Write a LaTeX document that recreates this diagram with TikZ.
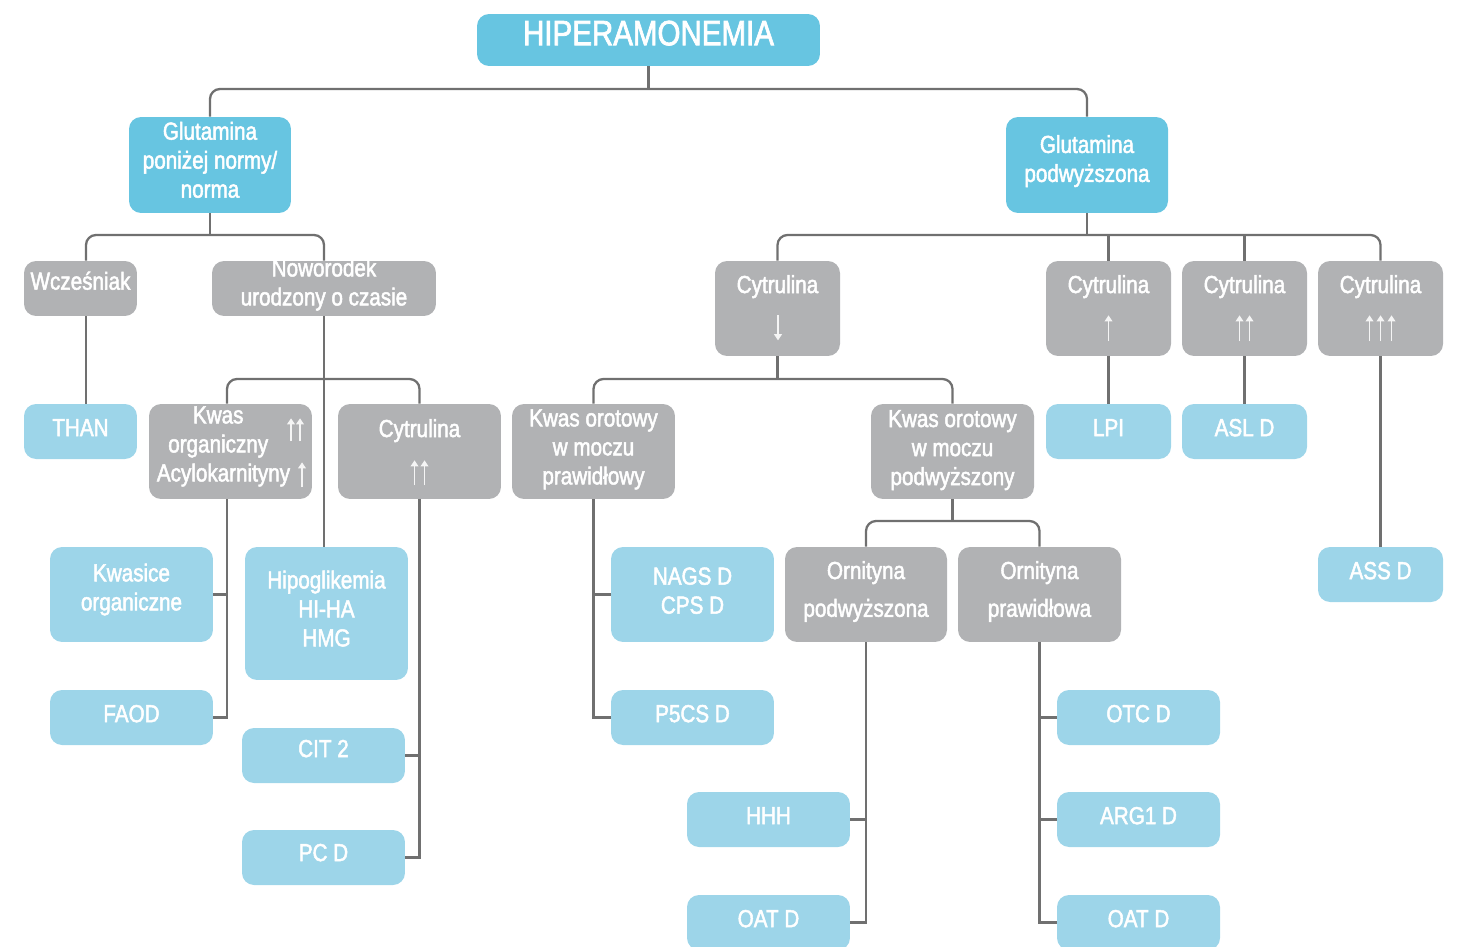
\documentclass[tikz,border=0pt]{standalone}
\usepackage{fontspec}
\setmainfont{Liberation Sans}[FakeStretch=0.84, FakeBold=2]
\usetikzlibrary{arrows.meta,calc}
\definecolor{topblue}{HTML}{67C5E1}
\definecolor{leafblue}{HTML}{9DD5E9}
\definecolor{boxgrey}{HTML}{B1B2B4}
\definecolor{linegrey}{HTML}{707070}
\tikzset{
	base/.style={rounded corners=0.24cm, text=white, align=center, inner sep=0pt, font=\fontsize{14}{16.5}\selectfont},
	lift/.style={execute at end node={\rule[-#1]{0pt}{#1}}},
	box/.style={base, lift=4.5pt},
	topbox/.style={box, fill=topblue},
	greybox/.style={box, fill=boxgrey},
	leafbox/.style={box, fill=leafblue},
	sz/.style 2 args={minimum width=#1cm, minimum height=#2cm},
	cytbox/.style={base, fill=boxgrey, text height=0.5cm, text depth=1.12cm},
	conn/.style={draw=linegrey, line width=1.3pt},
	bar/.style={conn, rounded corners=0.2cm},
	ina/.style={white!92!gray, line width=0.6pt, -{Triangle[width=4.5pt,length=3.5pt]}}
}
\begin{document}
\begin{tikzpicture}[x=0.02cm, y=-0.02cm]
	\useasboundingbox (0,0) rectangle (1459,946);
	\node[topbox, lift=8pt, sz={6.86}{1.04}, font=\fontsize{20}{22}\selectfont] (hip) at (648.5,40) {HIPERAMONEMIA};
	\node[topbox, lift=6pt, sz={3.24}{1.92}] (glutA) at (210,165) {Glutamina\\poniżej normy/\\norma};
	\node[topbox, lift=7.4pt, sz={3.24}{1.92}] (glutB) at (1087,165) {Glutamina\\podwyższona};

	\node[greybox, lift=9pt, sz={2.26}{1.1}] (wcz) at (80.5,288.5) {Wcześniak};
	\node[greybox, lift=7.4pt, inner ysep=-4pt, sz={4.48}{1.1}] (now) at (324,288.5) {Noworodek\\urodzony o czasie};
	\node[cytbox, sz={2.5}{1.9}] (cytD) at (777.5,308.5) {Cytrulina};
	\node[cytbox, sz={2.5}{1.9}] (cytU1) at (1108.5,308.5) {Cytrulina};
	\node[cytbox, sz={2.5}{1.9}] (cytU2) at (1244.5,308.5) {Cytrulina};
	\node[cytbox, sz={2.5}{1.9}] (cytU3) at (1380.5,308.5) {Cytrulina};

	\node[leafbox, lift=2.3pt, sz={2.26}{1.1}] (than) at (80.5,431.5) {THAN};
	\node[greybox, lift=8.6pt, sz={3.26}{1.9}] (kwas) at (230.5,451.5) {Kwas\hspace*{14pt}\\organiczny\kern14pt\\Acylokarnityny\hspace*{8pt}};
	\node[cytbox, sz={3.26}{1.9}, text depth=1.08cm] (cytL) at (419.5,451.5) {Cytrulina};
	\node[greybox, lift=5.2pt, sz={3.26}{1.9}] (kop) at (593.5,451.5) {Kwas orotowy\\w moczu\\prawidłowy};
	\node[greybox, lift=4pt, sz={3.26}{1.9}] (kopp) at (952.5,451.5) {Kwas orotowy\\w moczu\\podwyższony};
	\node[leafbox, sz={2.5}{1.1}] (lpi) at (1108.5,431.5) {LPI};
	\node[leafbox, sz={2.5}{1.1}] (asl) at (1244.5,431.5) {ASL D};

	\node[leafbox, lift=8.6pt, sz={3.26}{1.9}] (kwasice) at (131.5,594.5) {Kwasice\\organiczne};
	\node[leafbox, lift=5.7pt, sz={3.26}{2.66}] (hipo) at (326.5,613.5) {Hipoglikemia\\HI-HA\\HMG};
	\node[leafbox, lift=0pt, sz={3.26}{1.9}] (nags) at (692.5,594.5) {NAGS D\\CPS D};
	\node[greybox, lift=6.3pt, sz={3.24}{1.9}] (ornP) at (866,594.5) {Ornityna\\[5pt]podwyższona};
	\node[greybox, lift=6.3pt, sz={3.26}{1.9}] (ornN) at (1039.5,594.5) {Ornityna\\[5pt]prawidłowa};
	\node[leafbox, sz={2.5}{1.1}] (ass) at (1380.5,574.5) {ASS D};

	\node[leafbox, sz={3.26}{1.1}] (faod) at (131.5,717.5) {FAOD};
	\node[leafbox, lift=1.1pt, sz={3.26}{1.1}] (p5cs) at (692.5,717.5) {P5CS D};
	\node[leafbox, lift=1.1pt, sz={3.26}{1.1}] (otc) at (1138.5,717.5) {OTC D};
	\node[leafbox, lift=8pt, sz={3.26}{1.1}] (cit2) at (323.5,755.5) {CIT 2};
	\node[leafbox, lift=0pt, sz={3.26}{1.1}] (hhh) at (768.5,819.5) {HHH};
	\node[leafbox, lift=0pt, sz={3.26}{1.1}] (arg) at (1138.5,819.5) {ARG1 D};
	\node[leafbox, lift=5.7pt, sz={3.26}{1.1}] (pcd) at (323.5,857.5) {PC D};
	\node[leafbox, lift=3.4pt, sz={3.26}{1.1}] (oatA) at (768.5,922.5) {OAT D};
	\node[leafbox, lift=3.4pt, sz={3.26}{1.1}] (oatB) at (1138.5,922.5) {OAT D};

	% arrows inside the boxes
	\draw[ina] ($(cytD.south)+(0.5,-41)$) -- ++(0,25);
	\draw[ina] ($(cytU1.south)+(0,-15)$) -- ++(0,-26);
	\foreach \dx in {-5,5} \draw[ina] ($(cytU2.south)+(\dx,-15)$) -- ++(0,-26);
	\foreach \dx in {-11,0,11} \draw[ina] ($(cytU3.south)+(\dx,-15)$) -- ++(0,-26);
	\foreach \dx in {-5,5} \draw[ina] ($(cytL.south)+(\dx,-14)$) -- ++(0,-25);
	\foreach \dx in {60.5,69.5} \draw[ina] ($(kwas.south)+(\dx,-58)$) -- ++(0,-23);
	\draw[ina] ($(kwas.south)+(71.5,-12)$) -- ++(0,-25);

	% connectors
	\coordinate (j1) at (648.5,89);
	\draw[conn] (hip.south) -- (j1);
	\draw[bar] (glutA.north) |- (j1) -| (glutB.north);

	\coordinate (j2) at (210,235);
	\draw[conn] (glutA.south) -- (j2);
	\draw[bar] ([xshift=0.11cm]wcz.north) |- (j2) -| (now.north);
	\draw[conn] ([xshift=0.11cm]wcz.south) -- ([xshift=0.11cm]than.north);
	\draw[conn] (now.south) -- (now.south |- hipo.north);
	\coordinate (j4) at (324,379);
	\coordinate (kwasT) at ([xshift=-0.07cm]kwas.north);
	\coordinate (kwasB) at ([xshift=-0.07cm]kwas.south);
	\draw[bar] (kwasT) |- (j4) -| (cytL.north);
	\draw[conn] (kwasB) |- (faod.east);
	\draw[conn] (kwasice.east) -- (kwasice.east -| kwasB);
	\draw[conn] (cytL.south) |- (pcd.east);
	\draw[conn] (cit2.east) -- (cit2.east -| cytL.south);

	\coordinate (j3) at (1087,235);
	\draw[conn] (glutB.south) -- (j3);
	\draw[bar] (cytD.north) |- (j3) -| (cytU3.north);
	\foreach \n in {cytU1,cytU2} \draw[conn] (\n.north) -- (\n.north |- j3);
	\draw[conn] (cytU1.south) -- (lpi.north);
	\draw[conn] (cytU2.south) -- (asl.north);
	\draw[conn] (cytU3.south) -- (ass.north);

	\coordinate (j5) at (777.5,379);
	\draw[conn] (cytD.south) -- (j5);
	\draw[bar] (kop.north) |- (j5) -| (kopp.north);
	\draw[conn] (kop.south) |- (p5cs.west);
	\draw[conn] (nags.west) -- (nags.west -| kop.south);

	\coordinate (j6) at (952.5,521);
	\draw[conn] (kopp.south) -- (j6);
	\draw[bar] (ornP.north) |- (j6) -| (ornN.north);
	\draw[conn] (ornP.south) |- (oatA.east);
	\draw[conn] (hhh.east) -- (hhh.east -| ornP.south);
	\draw[conn] (ornN.south) |- (oatB.west);
	\foreach \n in {otc,arg} \draw[conn] (\n.west) -- (\n.west -| ornN.south);
\end{tikzpicture}
\end{document}
